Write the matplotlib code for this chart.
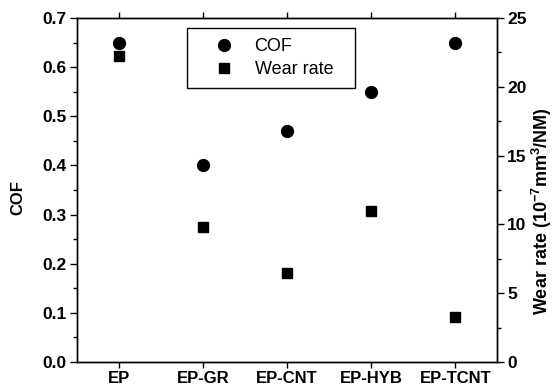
import matplotlib
matplotlib.use("Agg")
import matplotlib.pyplot as plt
from matplotlib.ticker import MultipleLocator

plt.rcParams['font.family'] = ['Liberation Sans', 'DejaVu Sans']
plt.rcParams['mathtext.fontset'] = 'custom'
plt.rcParams['mathtext.rm'] = 'Liberation Sans:bold'
plt.rcParams['mathtext.bf'] = 'Liberation Sans:bold'

categories = ["EP", "EP-GR", "EP-CNT", "EP-HYB", "EP-TCNT"]
cof = [0.65, 0.40, 0.47, 0.55, 0.65]
wear_rate = [22.2, 9.8, 6.5, 11.0, 3.3]

fig = plt.figure(figsize=(5.55, 3.87), dpi=100)
ax = fig.add_axes([0.138, 0.0646, 0.758, 0.889])
ax2 = ax.twinx()

x = list(range(1, len(categories) + 1))
h1, = ax.plot(x, cof, 'o', color='black', markersize=8.5, linestyle='none', label='COF')
h2, = ax2.plot(x, wear_rate, 's', color='black', markersize=7, linestyle='none', label='Wear rate')

ax.set_xlim(0.5, 5.5)
ax.set_ylim(0, 0.7)
ax2.set_ylim(0, 25)
ax.set_xticks(x)
ax.set_xticklabels(categories, fontweight='bold', fontsize=12)
ax.yaxis.set_major_locator(MultipleLocator(0.1))
ax.yaxis.set_minor_locator(MultipleLocator(0.05))
ax2.yaxis.set_major_locator(MultipleLocator(5))
ax2.yaxis.set_minor_locator(MultipleLocator(2.5))
ax.set_yticklabels([f"{v:.1f}" for v in ax.get_yticks()], fontweight='bold', fontsize=12.5)
ax2.set_yticklabels([f"{int(v)}" for v in ax2.get_yticks()], fontweight='bold', fontsize=12.5)

ax.tick_params(axis='x', which='both', direction='out', length=4.5, width=1, top=True, pad=2)
ax.tick_params(axis='y', which='major', direction='out', length=5, width=1, pad=2)
ax.tick_params(axis='y', which='minor', direction='out', length=3, width=1)
ax2.tick_params(axis='y', which='major', direction='out', length=5, width=1, pad=2)
ax2.tick_params(axis='y', which='minor', direction='out', length=3, width=1)

for a in (ax, ax2):
    for s in a.spines.values():
        s.set_linewidth(1)

fig.text(17.5 / 555, 1 - 198 / 387, 'COF', rotation=90, fontweight='bold',
         fontsize=12, ha='center', va='center')
fig.text(542 / 555, 1 - 211 / 387, r'Wear rate (10$^{-7}$mm$^{3}$/NM)', rotation=90,
         fontweight='bold', fontsize=13, ha='center', va='center')

leg = ax.legend([h1, h2], ['COF', 'Wear rate'], loc='upper left',
                bbox_to_anchor=(0.262, 0.971 - 0.2, 0.3995, 0.2), mode='expand',
                fontsize=13, frameon=True,
                fancybox=False, edgecolor='black', framealpha=1,
                borderpad=0.55, handletextpad=0.2, borderaxespad=0, labelspacing=0.35,
                handlelength=3.0)
leg.get_frame().set_linewidth(1)

fig.savefig('out.png', dpi=100)
